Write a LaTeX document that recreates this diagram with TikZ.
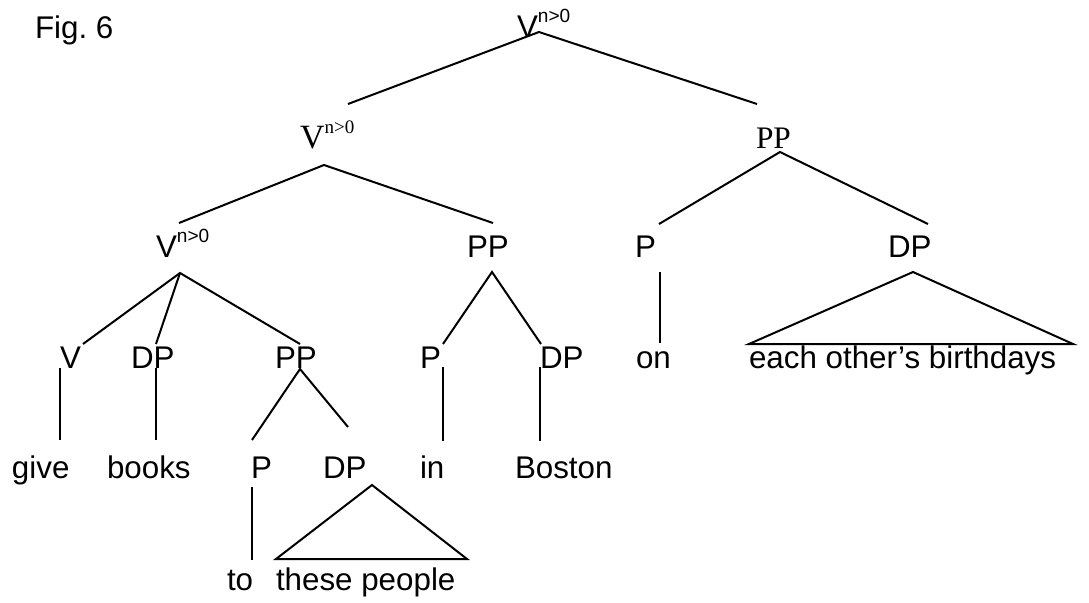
\documentclass[tikz,border=0pt]{standalone}
\usepackage{fontspec}
\setmainfont{Liberation Sans}
\newfontfamily\tnr{Liberation Serif}
\begin{document}
\frenchspacing
\begin{tikzpicture}[x=0.75pt,y=-0.75pt,
  lbl/.style={anchor=base west,inner sep=0pt,outer sep=0pt,font=\fontsize{23.5}{26}\selectfont},
  slbl/.style={anchor=base west,inner sep=0pt,outer sep=0pt,font=\tnr\fontsize{23.5}{26}\selectfont},
  edge/.style={line width=1.5pt,line cap=butt}]
\useasboundingbox (0,0) rectangle (1089,603);
\newcommand{\supB}[1]{\raisebox{11pt}{\fontsize{14.3}{16}\selectfont #1}}
% labels
\node[lbl] (fig) at (35,38) {Fig. 6};
\node[lbl] (root) at (517,37) {V\supB{n>0}};
\node[slbl] (vA) at (300,148) {\fontsize{25.5}{28}\selectfont V\raisebox{11pt}{\fontsize{14.3}{16}\selectfont n>0}};
\node[slbl] (ppA) at (756,148) {PP};
\node[lbl] (vB) at (156,257) {V\supB{n>0}};
\node[lbl] (ppB) at (467,257) {PP};
\node[lbl] (pB) at (635,257) {P};
\node[lbl] (dpB) at (888,257) {DP};
\node[lbl] (v4) at (60,368) {V};
\node[lbl] (dp4) at (131,368) {DP};
\node[lbl] (pp4) at (275,368) {PP};
\node[lbl] (p4) at (420,368) {P};
\node[lbl] (dp4b) at (540,368) {DP};
\node[lbl] (on4) at (636,368) {on};
\node[lbl] (eob) at (749,368) {each other’s birthdays};
\node[lbl] (give) at (12,478) {give};
\node[lbl] (books) at (107,478) {books};
\node[lbl] (p5) at (251,478) {P};
\node[lbl] (dp5) at (323,478) {DP};
\node[lbl] (in5) at (420,478) {in};
\node[lbl] (boston) at (515,478) {Boston};
\node[lbl] (to6) at (227,590) {to};
\node[lbl] (tp6) at (276,590) {these people};
% connector end points
\coordinate (root-s) at (539,32);
\coordinate (vA-n) at (348,104);
\coordinate (ppA-n) at (757,104);
\coordinate (vA-s) at (324,165);
\coordinate (vB-n) at (179,223);
\coordinate (ppB-n) at (493,223);
\coordinate (ppA-s) at (780,152);
\coordinate (pB-n) at (659,224);
\coordinate (dpB-n) at (928,224);
\coordinate (vB-s) at (180,273);
\coordinate (v4-n) at (83,344);
\coordinate (dp4-n) at (156,344);
\coordinate (pp4-n) at (300,344);
\coordinate (ppB-s) at (492,272);
\coordinate (p4-n) at (443,344);
\coordinate (dp4b-n) at (541,344);
\coordinate (pB-s) at (660,272);
\coordinate (on4-n) at (660,343);
\coordinate (dpB-s) at (913,272);
\coordinate (eob-nw) at (749,344);
\coordinate (eob-ne) at (1073,344);
\coordinate (v4-s) at (60,368);
\coordinate (give-n) at (60,440);
\coordinate (dp4-s) at (156,368);
\coordinate (books-n) at (156,440);
\coordinate (pp4-s) at (300,369);
\coordinate (p5-n) at (252,440);
\coordinate (dp5-n) at (348,427);
\coordinate (p4-s) at (443,367);
\coordinate (in5-n) at (443,441);
\coordinate (dp4b-s) at (540,367);
\coordinate (boston-n) at (540,441);
\coordinate (p5-s) at (252,487);
\coordinate (to6-n) at (252,560);
\coordinate (dp5-s) at (372,485);
\coordinate (tp6-nw) at (276,559);
\coordinate (tp6-ne) at (467,559);
% connectors
\draw[edge] (vA-n) -- (root-s) -- (ppA-n);
\draw[edge] (vB-n) -- (vA-s) -- (ppB-n);
\draw[edge] (pB-n) -- (ppA-s) -- (dpB-n);
\draw[edge] (v4-n) -- (vB-s) -- (pp4-n);
\draw[edge] (vB-s) -- (dp4-n);
\draw[edge] (p4-n) -- (ppB-s) -- (dp4b-n);
\draw[edge] (pB-s) -- (on4-n);
\draw[edge,line join=miter] (dpB-s) -- (eob-nw) -- (eob-ne) -- cycle;
\draw[edge] (v4-s) -- (give-n);
\draw[edge] (dp4-s) -- (books-n);
\draw[edge] (p5-n) -- (pp4-s) -- (dp5-n);
\draw[edge] (p4-s) -- (in5-n);
\draw[edge] (dp4b-s) -- (boston-n);
\draw[edge] (p5-s) -- (to6-n);
\draw[edge,line join=miter] (dp5-s) -- (tp6-nw) -- (tp6-ne) -- cycle;
\end{tikzpicture}
\end{document}
